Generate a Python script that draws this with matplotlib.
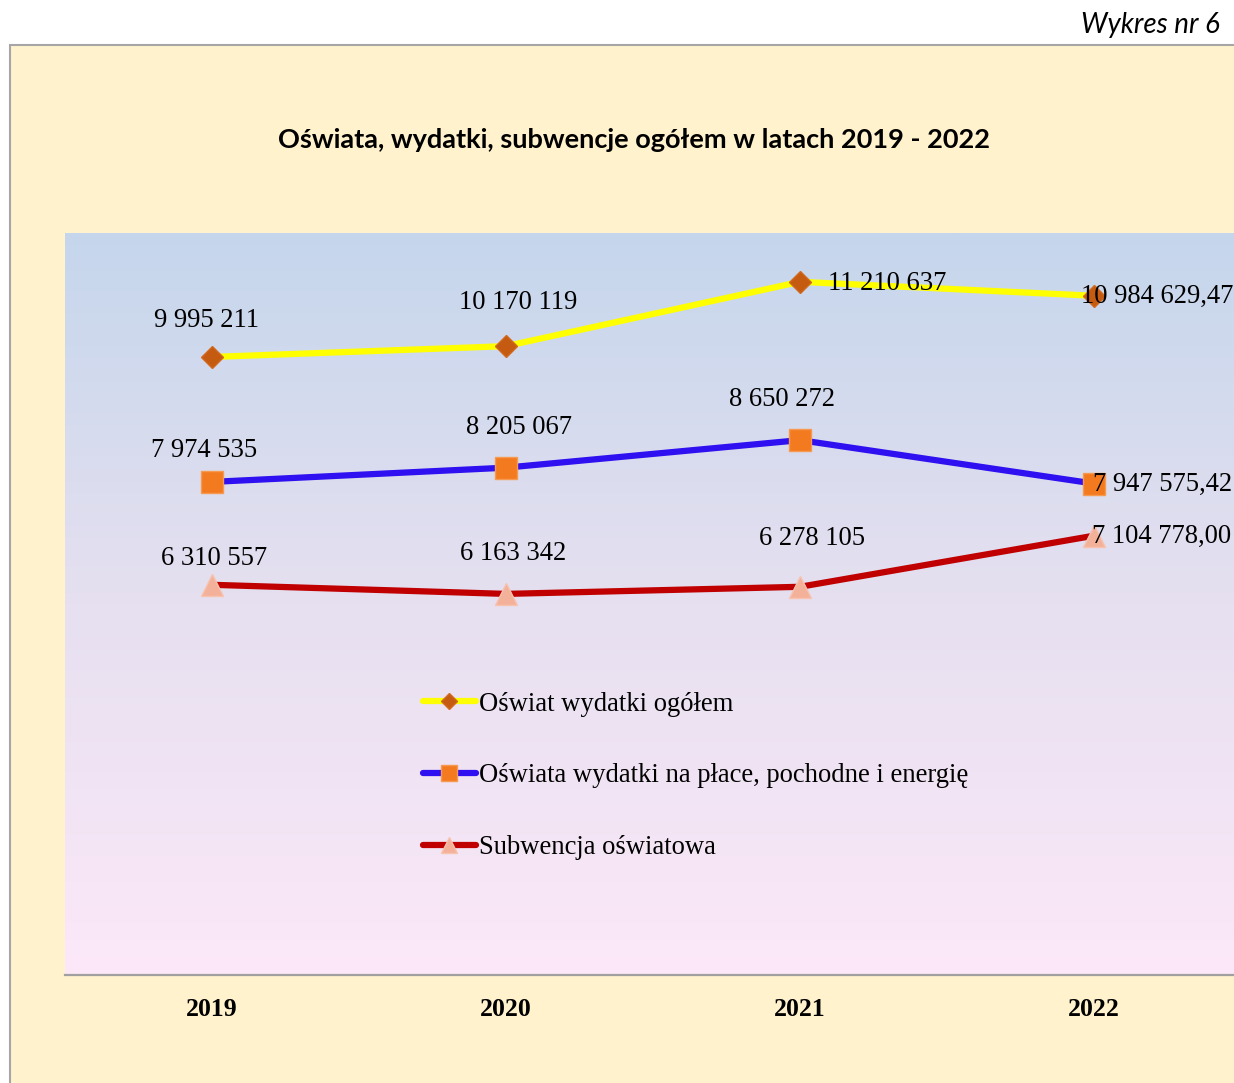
import matplotlib

matplotlib.use("Agg")
import matplotlib.pyplot as plt
import numpy as np
from matplotlib.colors import LinearSegmentedColormap
from matplotlib.patches import Rectangle

years = ["2019", "2020", "2021", "2022"]
wydatki_ogolem = [9995211, 10170119, 11210637, 10984629.47]
wydatki_place = [7974535, 8205067, 8650272, 7947575.42]
subwencja = [6310557, 6163342, 6278105, 7104778.00]

labels_ogolem = ["9 995 211", "10 170 119", "11 210 637", "10 984 629,47"]
labels_place = ["7 974 535", "8 205 067", "8 650 272", "7 947 575,42"]
labels_subw = ["6 310 557", "6 163 342", "6 278 105", "7 104 778,00"]

series_names = [
    "Oświat wydatki ogółem",
    "Oświata wydatki na płace, pochodne i energię",
    "Subwencja oświatowa",
]

W, H = 1234, 1083
fig = plt.figure(figsize=(W / 100, H / 100), dpi=100)
fig.patch.set_facecolor("white")

# outer chart frame (clipped at right and bottom)
fig.patches.append(Rectangle((10 / W, -0.05), 1.1, 1 - 45 / H + 0.05,
                             transform=fig.transFigure, facecolor="#FFF2CC",
                             edgecolor="#A6A6A6", linewidth=1.5, zorder=-5))

fig.text(1220 / W, 1 - 25 / H, "Wykres nr 6", ha="right", va="center",
         fontsize=20, style="italic", family="Lato")
fig.text(634 / W, 1 - 140 / H, "Oświata, wydatki, subwencje ogółem w latach 2019 - 2022",
         ha="center", va="center", fontsize=19.5, fontweight="bold", family="Lato")

ax = fig.add_axes([65 / W, 1 - 975 / H, 1176 / W, 742 / H])
ax.set_facecolor("none")
x = np.arange(len(years))
ax.set_xlim(-0.5, 3.5)

# gradient background of the plot area
cmap = LinearSegmentedColormap.from_list("bg", ["#C5D6EC", "#E6E0F0", "#FCE8F8"])
ax.imshow(np.linspace(0, 1, 256).reshape(-1, 1), cmap=cmap, aspect="auto",
          extent=(-0.5, 3.5, 0, 12_000_000), origin="upper", zorder=0)
ax.set_ylim(0, 12_000_000)

serif = "Liberation Serif"
l1, = ax.plot(x, wydatki_ogolem, color="#FFFF00", lw=4.5, marker="D", ms=11.5,
              mfc="#C55A11", mec="#D2691E", zorder=3, solid_capstyle="round")
l2, = ax.plot(x, wydatki_place, color="#2E10F0", lw=4.5, marker="s", ms=16,
              mfc="#F47A20", mec="#F59A50", zorder=3, solid_capstyle="round")
l3, = ax.plot(x, subwencja, color="#C00000", lw=4.5, marker="^", ms=16,
              mfc="#F4B19A", mec="#F7C2AE", zorder=3, solid_capstyle="round")

# data labels: (dx px, dy px, ha)
offsets = {
    0: [(-6, 36, "center"), (12, 44, "center"), (28, -2, "left"), (-13, -1, "left")],
    1: [(-8, 31, "center"), (13, 40, "center"), (-18, 41, "center"), (-1, -1, "left")],
    2: [(2, 26, "center"), (7, 40, "center"), (12, 48, "center"), (-2, -1, "left")],
}
for s, (vals, labs) in enumerate([(wydatki_ogolem, labels_ogolem),
                                  (wydatki_place, labels_place),
                                  (subwencja, labels_subw)]):
    for i in range(len(years)):
        dx, dy, ha = offsets[s][i]
        ax.annotate(labs[i], (x[i], vals[i]), xytext=(dx * 0.72, dy * 0.72),
                    textcoords="offset points", ha=ha, va="center",
                    fontsize=19.2, family=serif, zorder=4)

leg = ax.legend([l1, l2, l3], series_names, loc="upper left",
                bbox_to_anchor=(347 / 1176, (975 - 681) / 742), frameon=False,
                prop={"family": serif, "size": 19.2}, handlelength=2.0,
                handletextpad=0.1, labelspacing=1.75, borderaxespad=0,
                markerscale=0.75)

for side in ["top", "left", "right"]:
    ax.spines[side].set_visible(False)
ax.spines["bottom"].set_color("#A0A0A0")
ax.spines["bottom"].set_linewidth(1.6)
ax.set_yticks([])
ax.set_xticks(x)
ax.set_xticklabels(years, family=serif, fontweight="bold", fontsize=18.5)
ax.tick_params(axis="x", length=0, pad=16.5)

fig.savefig("out.png", dpi=100)
